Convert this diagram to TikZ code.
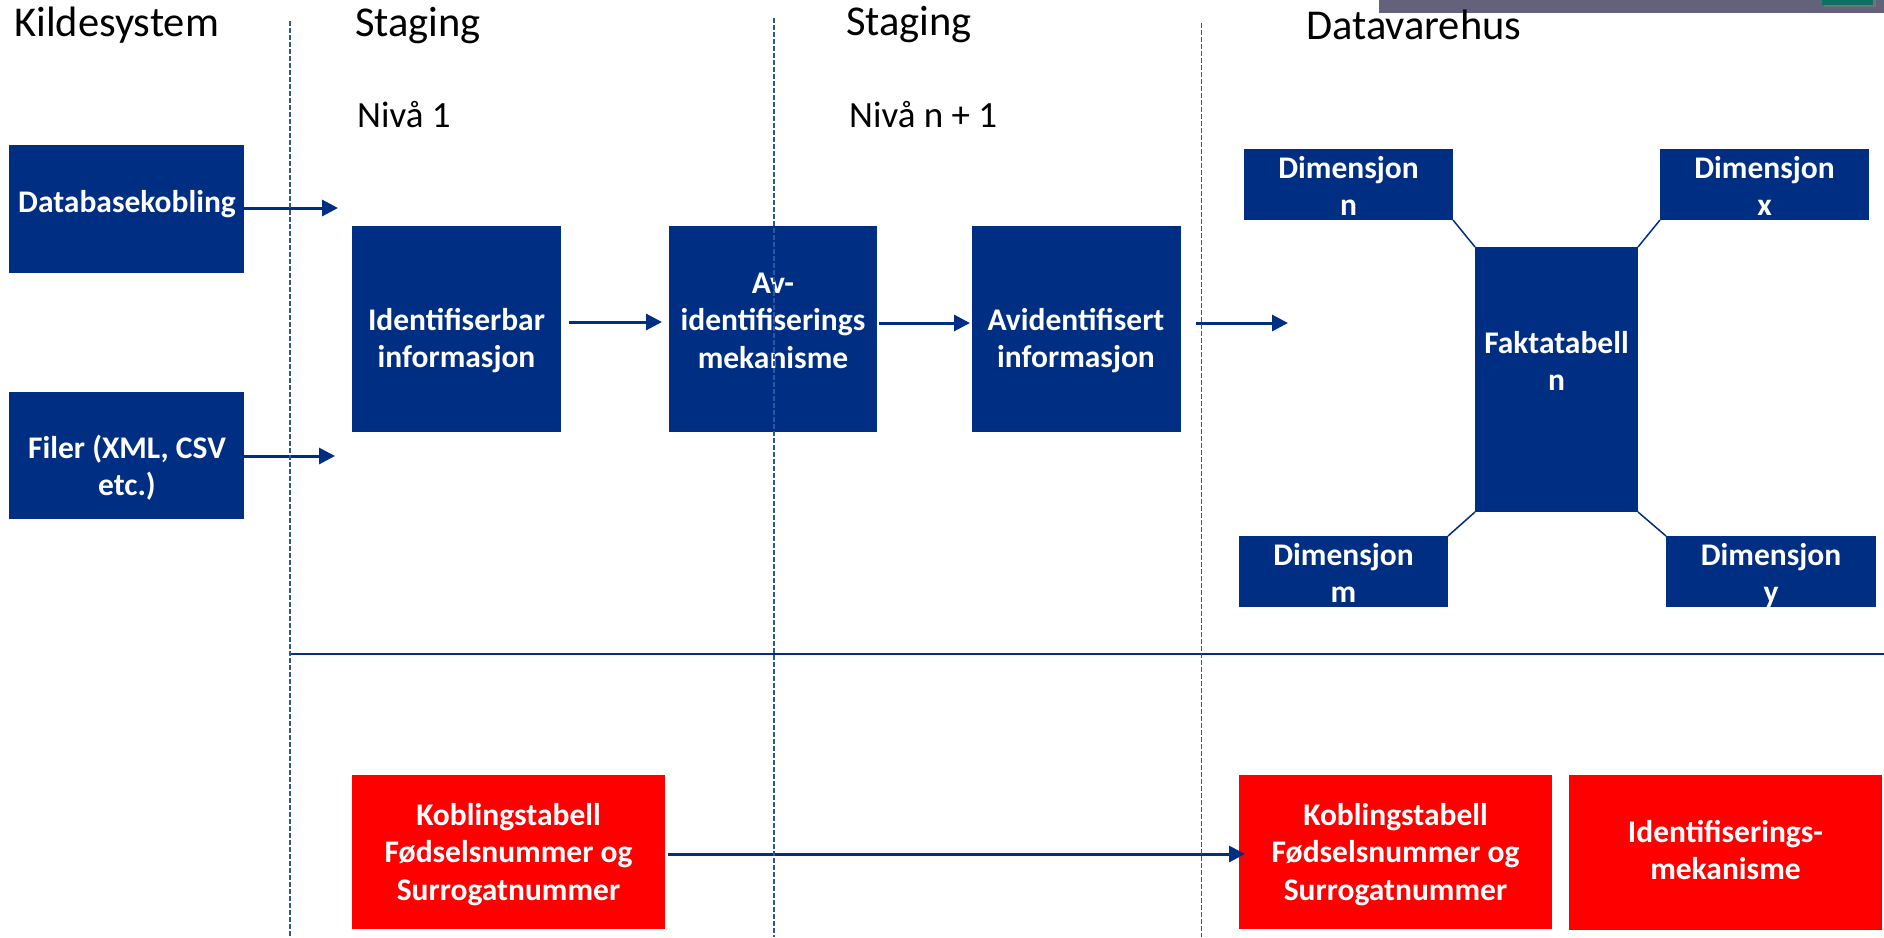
\documentclass[tikz,border=0pt]{standalone}
\usepackage{fontspec}
\setmainfont{Carlito}
\usetikzlibrary{arrows.meta}
\definecolor{navy}{RGB}{0,46,130}
\definecolor{dashblue}{RGB}{47,85,160}
\definecolor{boxred}{RGB}{255,0,0}
\definecolor{topgray}{RGB}{99,98,122}
\definecolor{tealbar}{RGB}{13,112,101}
\newcommand{\mlines}[1]{\begin{tabular}[t]{@{}c@{}}#1\end{tabular}}
\begin{document}
\begin{tikzpicture}[x=1pt,y=-1pt,
  bluebox/.style={draw=none, fill=navy, inner sep=0pt, outer sep=0pt, anchor=north west},
  redbox/.style={draw=none, fill=boxred, inner sep=0pt, outer sep=0pt, anchor=north west},
  boxtext/.style={text=white, inner sep=0pt, anchor=base, font=\bfseries\fontsize{31.5}{37.5}\selectfont},
  header/.style={inner sep=0pt, anchor=base west, font=\fontsize{42.5}{50}\selectfont},
  level/.style={inner sep=0pt, anchor=base west, font=\fontsize{37}{44}\selectfont},
  arr/.style={draw=navy, line width=3pt, -{Triangle[length=16pt,width=16pt]}},
  link/.style={draw=navy, line width=1.5pt},
  divider/.style={draw=dashblue, line width=1.5pt, dash pattern=on 5pt off 2pt},
  hrule/.style={draw=navy, line width=2.5pt}]
\useasboundingbox (0,0) rectangle (1884,937);
\fill[white] (0,0) rectangle (1884,937);

% top right strip
\fill[topgray] (1379,0) rectangle (1884,13);
\fill[black!55] (1824,0) rectangle (1876,6.5);
\fill[tealbar] (1822,0) rectangle (1873,5);

% headers
\node[header] (hKilde) at (14,36) {Kildesystem};
\node[header] (hStag1) at (355,36) {Staging};
\node[level]  (hNiv1)  at (357,127) {Nivå 1};
\node[header] (hStag2) at (846,35) {Staging};
\node[level]  (hNivN)  at (849,127) {Nivå n + 1};
\node[header] (hDVH)   at (1306,39) {Datavarehus};

% boxes
\node[bluebox, minimum width=235pt, minimum height=128pt] (db)  at (9,145) {};
\node[bluebox, minimum width=235pt, minimum height=127pt] (fil) at (9,392) {};
\node[bluebox, minimum width=209pt, minimum height=206pt] (id)  at (352,226) {};
\node[bluebox, minimum width=208pt, minimum height=206pt] (av)  at (669,226) {};
\node[bluebox, minimum width=209pt, minimum height=206pt] (avd) at (972,226) {};
\node[bluebox, minimum width=209pt, minimum height=71pt]  (dn)  at (1244,149) {};
\node[bluebox, minimum width=209pt, minimum height=71pt]  (dx)  at (1660,149) {};
\node[bluebox, minimum width=163pt, minimum height=265pt] (fk)  at (1475,247) {};
\node[bluebox, minimum width=209pt, minimum height=71pt]  (dm)  at (1239,536) {};
\node[bluebox, minimum width=210pt, minimum height=71pt]  (dy)  at (1666,536) {};
\node[redbox, minimum width=313pt, minimum height=154pt]  (kl)  at (352,775) {};
\node[redbox, minimum width=313pt, minimum height=154pt]  (kr)  at (1239,775) {};
\node[redbox, minimum width=313pt, minimum height=155pt]  (im)  at (1569,775) {};

% box texts
\node[boxtext] (dbT)  at (127,212)    {\mlines{Databasekobling}};
\node[boxtext] (filT) at (127,458)    {\mlines{Filer (XML, CSV\\etc.)}};
\node[boxtext] (idT)  at (456.5,330)  {\mlines{Identifiserbar\\informasjon}};
\node[boxtext] (avT)  at (773,293)    {\mlines{Av-\\identifiserings\\mekanisme}};
\node[boxtext] (avdT) at (1076,330)   {\mlines{Avidentifisert\\informasjon}};
\node[boxtext] (dnT)  at (1348.5,178) {\mlines{Dimensjon\\n}};
\node[boxtext] (dxT)  at (1764.5,178) {\mlines{Dimensjon\\x}};
\node[boxtext] (fkT)  at (1556.5,353) {\mlines{Faktatabell\\n}};
\node[boxtext] (dmT)  at (1343.5,565) {\mlines{Dimensjon\\m}};
\node[boxtext] (dyT)  at (1771,565)   {\mlines{Dimensjon\\y}};
\node[boxtext] (klT)  at (508.5,825)  {\mlines{Koblingstabell\\Fødselsnummer og\\Surrogatnummer}};
\node[boxtext] (krT)  at (1395.5,825) {\mlines{Koblingstabell\\Fødselsnummer og\\Surrogatnummer}};
\node[boxtext] (imT)  at (1725.5,842) {\mlines{Identifiserings-\\mekanisme}};

% free ends and rows
\coordinate (dbEnd)  at (338,208);
\coordinate (filEnd) at (335,456);
\coordinate (rowA)   at (0,322);
\coordinate (rowB)   at (0,323);
\coordinate (dwEnd)  at (1288,323);
\coordinate (rowK)   at (0,854);

% arrows
\draw[arr] (db.east |- dbEnd) -- (dbEnd);
\draw[arr] (fil.east |- filEnd) -- (filEnd);
\draw[arr, shorten <=8pt, shorten >=7pt] (id.east |- rowA) -- (av.west |- rowA);
\draw[arr, shorten <=2pt, shorten >=2pt] (av.east |- rowB) -- (avd.west |- rowB);
\draw[arr, shorten <=15pt] (avd.east |- rowB) -- (dwEnd);
\draw[arr, shorten <=3pt, shorten >=-6pt] (kl.east |- rowK) -- (kr.west |- rowK);

% star schema links
\draw[link] (dn.south east) -- (fk.north west);
\draw[link] (dx.south west) -- (fk.north east);
\draw[link] (dm.north east) -- (fk.south west);
\draw[link] (dy.north west) -- (fk.south east);

% separators
\draw[hrule] (290,654) -- (1884,654);
\draw[divider] (290,21) -- (290,937);
\draw[divider] (774,18) -- (774,937);
\draw[divider] (1201.5,23) -- (1201.5,937);
\end{tikzpicture}
\end{document}
